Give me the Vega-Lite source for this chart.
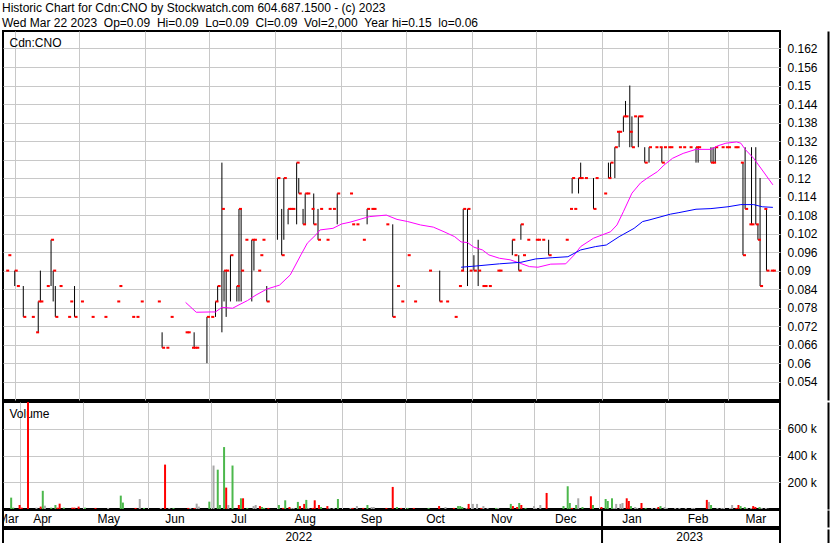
{
  "$schema": "https://vega.github.io/schema/vega-lite/v6.json",
  "background": "white",
  "padding": {"left": 2, "top": 2, "right": 0, "bottom": 0},
  "title": {
    "text": ["Historic Chart for Cdn:CNO by Stockwatch.com 604.687.1500 - (c) 2023", "Wed Mar 22 2023\u00a0\u00a0Op=0.09\u00a0\u00a0Hi=0.09\u00a0\u00a0Lo=0.09\u00a0\u00a0Cl=0.09\u00a0\u00a0Vol=2,000\u00a0\u00a0Year hi=0.15\u00a0\u00a0lo=0.06"],
    "anchor": "start", "font": "Liberation Sans", "fontSize": 12, "fontWeight": "normal", "color": "black", "lineHeight": 15, "offset": 0
  },
  "config": {
    "view": {"stroke": "black", "strokeWidth": 2},
    "font": "Liberation Sans",
    "axis": {"labelFont": "Liberation Sans", "labelFontSize": 12, "labelColor": "black", "gridColor": "#c8c8c8", "gridWidth": 1, "domain": false, "ticks": false, "labelOverlap": false, "labelBound": false}
  },
  "resolve": {"scale": {"color": "independent"}},
  "datasets": {
    "prices": [
      {"date":"2022-03-28","c":0.09,"v":85000,"chg":"up"},
      {"date":"2022-03-29","c":0.095,"v":10000,"chg":"up"},
      {"date":"2022-04-01","h":0.09,"l":0.085,"c":0.09,"v":30000,"chg":"down"},
      {"date":"2022-04-02","c":0.085,"v":10000,"chg":"down"},
      {"date":"2022-04-05","h":0.085,"l":0.075,"c":0.075,"v":1100000,"chg":"down"},
      {"date":"2022-04-09","c":0.075,"v":10000,"chg":"flat"},
      {"date":"2022-04-11","c":0.07,"v":18000,"chg":"down"},
      {"date":"2022-04-12","h":0.08,"l":0.07,"c":0.08,"v":136000,"chg":"up"},
      {"date":"2022-04-13","h":0.09,"l":0.08,"c":0.08,"v":25000,"chg":"flat"},
      {"date":"2022-04-16","c":0.085,"v":10000,"chg":"up"},
      {"date":"2022-04-18","h":0.10,"l":0.085,"c":0.10,"v":30000,"chg":"up"},
      {"date":"2022-04-19","h":0.09,"l":0.08,"c":0.09,"v":10000,"chg":"down"},
      {"date":"2022-04-20","h":0.085,"l":0.075,"c":0.075,"v":40000,"chg":"down"},
      {"date":"2022-04-22","c":0.085,"v":10000,"chg":"up"},
      {"date":"2022-04-26","c":0.075,"v":10000,"chg":"down"},
      {"date":"2022-04-27","c":0.08,"v":10000,"chg":"down"},
      {"date":"2022-04-29","h":0.085,"l":0.075,"c":0.075,"v":18000,"chg":"down"},
      {"date":"2022-05-02","c":0.08,"v":10000,"chg":"up"},
      {"date":"2022-05-07","c":0.075,"v":8000,"chg":"down"},
      {"date":"2022-05-13","c":0.075,"v":8000,"chg":"flat"},
      {"date":"2022-05-19","c":0.08,"v":100000,"chg":"up"},
      {"date":"2022-05-20","c":0.085,"v":48000,"chg":"up"},
      {"date":"2022-05-26","c":0.075,"v":8000,"chg":"down"},
      {"date":"2022-05-28","c":0.075,"v":75000,"chg":"flat"},
      {"date":"2022-05-30","c":0.08,"v":8000,"chg":"up"},
      {"date":"2022-06-07","c":0.08,"v":8000,"chg":"flat"},
      {"date":"2022-06-09","h":0.07,"l":0.065,"c":0.065,"v":332000,"chg":"down"},
      {"date":"2022-06-11","c":0.065,"v":8000,"chg":"flat"},
      {"date":"2022-06-13","c":0.075,"v":8000,"chg":"up"},
      {"date":"2022-06-20","c":0.07,"v":8000,"chg":"down"},
      {"date":"2022-06-21","c":0.07,"v":8000,"chg":"flat"},
      {"date":"2022-06-23","c":0.065,"v":8000,"chg":"down"},
      {"date":"2022-06-24","h":0.07,"l":0.065,"c":0.065,"v":40000,"chg":"flat"},
      {"date":"2022-06-25","c":0.065,"v":18000,"chg":"flat"},
      {"date":"2022-06-30","h":0.075,"l":0.06,"c":0.075,"v":55000,"chg":"up"},
      {"date":"2022-07-02","c":0.075,"v":325000,"chg":"flat"},
      {"date":"2022-07-04","h":0.08,"l":0.075,"c":0.08,"v":294000,"chg":"up"},
      {"date":"2022-07-05","h":0.085,"l":0.08,"c":0.085,"v":30000,"chg":"up"},
      {"date":"2022-07-07","h":0.125,"l":0.07,"c":0.11,"v":463000,"chg":"up"},
      {"date":"2022-07-08","h":0.09,"l":0.08,"c":0.09,"v":160000,"chg":"down"},
      {"date":"2022-07-09","h":0.09,"l":0.075,"c":0.09,"v":30000,"chg":"flat"},
      {"date":"2022-07-11","h":0.095,"l":0.08,"c":0.095,"v":325000,"chg":"up"},
      {"date":"2022-07-14","h":0.085,"l":0.08,"c":0.085,"v":30000,"chg":"down"},
      {"date":"2022-07-15","h":0.11,"l":0.08,"c":0.11,"v":80000,"chg":"up"},
      {"date":"2022-07-16","h":0.11,"l":0.08,"c":0.09,"v":80000,"chg":"down"},
      {"date":"2022-07-18","c":0.10,"v":8000,"chg":"up"},
      {"date":"2022-07-21","h":0.10,"l":0.08,"c":0.10,"v":22000,"chg":"flat"},
      {"date":"2022-07-22","h":0.10,"l":0.09,"c":0.10,"v":30000,"chg":"flat"},
      {"date":"2022-07-24","c":0.09,"v":22000,"chg":"down"},
      {"date":"2022-07-25","c":0.095,"v":15000,"chg":"up"},
      {"date":"2022-07-26","c":0.10,"v":8000,"chg":"up"},
      {"date":"2022-07-28","h":0.085,"l":0.08,"c":0.08,"v":8000,"chg":"down"},
      {"date":"2022-08-02","h":0.12,"l":0.10,"c":0.12,"v":30000,"chg":"up"},
      {"date":"2022-08-04","h":0.11,"l":0.095,"c":0.095,"v":8000,"chg":"down"},
      {"date":"2022-08-05","h":0.12,"l":0.10,"c":0.12,"v":65000,"chg":"up"},
      {"date":"2022-08-07","h":0.11,"l":0.105,"c":0.11,"v":15000,"chg":"down"},
      {"date":"2022-08-08","c":0.11,"v":8000,"chg":"flat"},
      {"date":"2022-08-09","c":0.11,"v":8000,"chg":"flat"},
      {"date":"2022-08-11","h":0.125,"l":0.105,"c":0.125,"v":53000,"chg":"up"},
      {"date":"2022-08-12","h":0.12,"l":0.115,"c":0.115,"v":22000,"chg":"down"},
      {"date":"2022-08-14","h":0.11,"l":0.105,"c":0.105,"v":38000,"chg":"down"},
      {"date":"2022-08-15","h":0.115,"l":0.105,"c":0.115,"v":68000,"chg":"up"},
      {"date":"2022-08-16","c":0.115,"v":8000,"chg":"flat"},
      {"date":"2022-08-18","c":0.11,"v":8000,"chg":"down"},
      {"date":"2022-08-19","h":0.115,"l":0.105,"c":0.105,"v":65000,"chg":"down"},
      {"date":"2022-08-21","h":0.11,"l":0.10,"c":0.10,"v":30000,"chg":"down"},
      {"date":"2022-08-22","c":0.11,"v":15000,"chg":"up"},
      {"date":"2022-08-25","c":0.10,"v":22000,"chg":"down"},
      {"date":"2022-08-26","c":0.11,"v":8000,"chg":"flat"},
      {"date":"2022-08-28","c":0.11,"v":8000,"chg":"flat"},
      {"date":"2022-08-30","h":0.115,"l":0.105,"c":0.115,"v":75000,"chg":"up"},
      {"date":"2022-09-05","c":0.115,"v":8000,"chg":"flat"},
      {"date":"2022-09-06","c":0.105,"v":8000,"chg":"down"},
      {"date":"2022-09-08","c":0.105,"v":22000,"chg":"flat"},
      {"date":"2022-09-11","c":0.10,"v":8000,"chg":"down"},
      {"date":"2022-09-13","h":0.11,"l":0.105,"c":0.11,"v":30000,"chg":"up"},
      {"date":"2022-09-15","c":0.11,"v":15000,"chg":"flat"},
      {"date":"2022-09-16","c":0.11,"v":15000,"chg":"flat"},
      {"date":"2022-09-22","c":0.105,"v":8000,"chg":"down"},
      {"date":"2022-09-25","h":0.105,"l":0.075,"c":0.075,"v":165000,"chg":"down"},
      {"date":"2022-09-27","c":0.085,"v":15000,"chg":"up"},
      {"date":"2022-09-29","c":0.08,"v":8000,"chg":"down"},
      {"date":"2022-10-02","c":0.095,"v":8000,"chg":"up"},
      {"date":"2022-10-05","c":0.08,"v":8000,"chg":"down"},
      {"date":"2022-10-12","c":0.09,"v":8000,"chg":"up"},
      {"date":"2022-10-17","h":0.09,"l":0.08,"c":0.08,"v":22000,"chg":"down"},
      {"date":"2022-10-20","c":0.08,"v":15000,"chg":"flat"},
      {"date":"2022-10-24","c":0.075,"v":8000,"chg":"down"},
      {"date":"2022-10-26","c":0.085,"v":22000,"chg":"up"},
      {"date":"2022-10-27","c":0.09,"v":22000,"chg":"up"},
      {"date":"2022-10-28","h":0.11,"l":0.09,"c":0.11,"v":15000,"chg":"up"},
      {"date":"2022-10-30","h":0.11,"l":0.085,"c":0.11,"v":8000,"chg":"flat"},
      {"date":"2022-10-31","c":0.09,"v":38000,"chg":"down"},
      {"date":"2022-11-02","h":0.095,"l":0.09,"c":0.09,"v":38000,"chg":"flat"},
      {"date":"2022-11-04","h":0.10,"l":0.085,"c":0.09,"v":38000,"chg":"flat"},
      {"date":"2022-11-06","c":0.085,"v":8000,"chg":"down"},
      {"date":"2022-11-07","c":0.085,"v":22000,"chg":"flat"},
      {"date":"2022-11-09","c":0.085,"v":8000,"chg":"flat"},
      {"date":"2022-11-13","c":0.09,"v":8000,"chg":"up"},
      {"date":"2022-11-14","c":0.09,"v":8000,"chg":"flat"},
      {"date":"2022-11-20","h":0.10,"l":0.095,"c":0.10,"v":38000,"chg":"up"},
      {"date":"2022-11-21","c":0.095,"v":22000,"chg":"down"},
      {"date":"2022-11-23","h":0.095,"l":0.09,"c":0.09,"v":15000,"chg":"down"},
      {"date":"2022-11-24","h":0.105,"l":0.10,"c":0.105,"v":45000,"chg":"up"},
      {"date":"2022-11-25","c":0.095,"v":30000,"chg":"down"},
      {"date":"2022-11-27","c":0.10,"v":8000,"chg":"up"},
      {"date":"2022-12-01","c":0.10,"v":22000,"chg":"flat"},
      {"date":"2022-12-02","c":0.10,"v":8000,"chg":"flat"},
      {"date":"2022-12-04","c":0.10,"v":30000,"chg":"flat"},
      {"date":"2022-12-07","h":0.10,"l":0.095,"c":0.095,"v":120000,"chg":"down"},
      {"date":"2022-12-15","c":0.10,"v":22000,"chg":"up"},
      {"date":"2022-12-17","c":0.11,"v":170000,"chg":"up"},
      {"date":"2022-12-18","h":0.12,"l":0.115,"c":0.12,"v":45000,"chg":"up"},
      {"date":"2022-12-19","c":0.11,"v":8000,"chg":"down"},
      {"date":"2022-12-21","h":0.12,"l":0.115,"c":0.12,"v":30000,"chg":"up"},
      {"date":"2022-12-22","h":0.125,"l":0.12,"c":0.12,"v":80000,"chg":"flat"},
      {"date":"2022-12-24","c":0.12,"v":15000,"chg":"up"},
      {"date":"2022-12-28","h":0.12,"l":0.11,"c":0.11,"v":95000,"chg":"down"},
      {"date":"2022-12-29","c":0.12,"v":30000,"chg":"up"},
      {"date":"2023-01-02","c":0.115,"v":15000,"chg":"down"},
      {"date":"2023-01-04","h":0.125,"l":0.12,"c":0.12,"v":75000,"chg":"up"},
      {"date":"2023-01-05","h":0.125,"l":0.12,"c":0.125,"v":60000,"chg":"up"},
      {"date":"2023-01-07","h":0.13,"l":0.12,"c":0.13,"v":80000,"chg":"up"},
      {"date":"2023-01-08","c":0.135,"v":8000,"chg":"flat"},
      {"date":"2023-01-09","h":0.135,"l":0.13,"c":0.135,"v":38000,"chg":"flat"},
      {"date":"2023-01-11","h":0.14,"l":0.135,"c":0.14,"v":38000,"chg":"flat"},
      {"date":"2023-01-12","h":0.145,"l":0.14,"c":0.14,"v":45000,"chg":"flat"},
      {"date":"2023-01-14","h":0.15,"l":0.13,"c":0.135,"v":80000,"chg":"down"},
      {"date":"2023-01-15","h":0.14,"l":0.13,"c":0.13,"v":60000,"chg":"down"},
      {"date":"2023-01-16","c":0.14,"v":22000,"chg":"up"},
      {"date":"2023-01-18","h":0.14,"l":0.13,"c":0.14,"v":15000,"chg":"flat"},
      {"date":"2023-01-19","c":0.14,"v":8000,"chg":"flat"},
      {"date":"2023-01-21","h":0.13,"l":0.125,"c":0.125,"v":45000,"chg":"down"},
      {"date":"2023-01-23","h":0.13,"l":0.125,"c":0.13,"v":8000,"chg":"up"},
      {"date":"2023-01-26","c":0.13,"v":8000,"chg":"flat"},
      {"date":"2023-01-28","c":0.13,"v":8000,"chg":"flat"},
      {"date":"2023-01-29","h":0.13,"l":0.125,"c":0.125,"v":15000,"chg":"down"},
      {"date":"2023-01-30","c":0.13,"v":22000,"chg":"up"},
      {"date":"2023-02-01","c":0.13,"v":15000,"chg":"flat"},
      {"date":"2023-02-02","c":0.13,"v":8000,"chg":"flat"},
      {"date":"2023-02-06","c":0.13,"v":8000,"chg":"flat"},
      {"date":"2023-02-08","c":0.13,"v":8000,"chg":"flat"},
      {"date":"2023-02-11","c":0.13,"v":8000,"chg":"flat"},
      {"date":"2023-02-14","h":0.13,"l":0.125,"c":0.13,"v":8000,"chg":"flat"},
      {"date":"2023-02-15","h":0.13,"l":0.125,"c":0.13,"v":8000,"chg":"flat"},
      {"date":"2023-02-21","h":0.13,"l":0.125,"c":0.125,"v":68000,"chg":"down"},
      {"date":"2023-02-22","h":0.13,"l":0.125,"c":0.125,"v":53000,"chg":"flat"},
      {"date":"2023-02-23","h":0.13,"l":0.125,"c":0.13,"v":30000,"chg":"up"},
      {"date":"2023-02-26","c":0.13,"v":8000,"chg":"flat"},
      {"date":"2023-02-28","c":0.13,"v":8000,"chg":"flat"},
      {"date":"2023-03-01","c":0.13,"v":8000,"chg":"flat"},
      {"date":"2023-03-04","c":0.13,"v":8000,"chg":"flat"},
      {"date":"2023-03-05","c":0.13,"v":30000,"chg":"flat"},
      {"date":"2023-03-07","c":0.125,"v":8000,"chg":"down"},
      {"date":"2023-03-08","h":0.125,"l":0.095,"c":0.095,"v":30000,"chg":"down"},
      {"date":"2023-03-09","h":0.13,"l":0.11,"c":0.11,"v":22000,"chg":"up"},
      {"date":"2023-03-11","c":0.105,"v":15000,"chg":"up"},
      {"date":"2023-03-12","h":0.13,"l":0.105,"c":0.105,"v":8000,"chg":"flat"},
      {"date":"2023-03-14","h":0.13,"l":0.105,"c":0.105,"v":8000,"chg":"flat"},
      {"date":"2023-03-15","h":0.105,"l":0.10,"c":0.10,"v":22000,"chg":"down"},
      {"date":"2023-03-16","h":0.12,"l":0.085,"c":0.085,"v":15000,"chg":"down"},
      {"date":"2023-03-18","c":0.11,"v":15000,"chg":"up"},
      {"date":"2023-03-19","h":0.11,"l":0.09,"c":0.09,"v":8000,"chg":"flat"},
      {"date":"2023-03-21","c":0.09,"v":8000,"chg":"flat"},
      {"date":"2023-03-22","c":0.09,"v":2000,"chg":"flat"}
    ],
    "ma": [
      {"date":"2022-06-20","series":"short","value":0.0797},
      {"date":"2022-06-25","series":"short","value":0.0765},
      {"date":"2022-07-02","series":"short","value":0.0766},
      {"date":"2022-07-04","series":"short","value":0.0766},
      {"date":"2022-07-07","series":"short","value":0.0781},
      {"date":"2022-07-12","series":"short","value":0.0778},
      {"date":"2022-07-15","series":"short","value":0.0789},
      {"date":"2022-07-19","series":"short","value":0.0803},
      {"date":"2022-07-23","series":"short","value":0.0821},
      {"date":"2022-07-28","series":"short","value":0.0840},
      {"date":"2022-08-03","series":"short","value":0.0853},
      {"date":"2022-08-08","series":"short","value":0.0886},
      {"date":"2022-08-13","series":"short","value":0.0951},
      {"date":"2022-08-16","series":"short","value":0.0989},
      {"date":"2022-08-20","series":"short","value":0.1016},
      {"date":"2022-08-22","series":"short","value":0.1032},
      {"date":"2022-08-28","series":"short","value":0.1037},
      {"date":"2022-09-01","series":"short","value":0.1051},
      {"date":"2022-09-05","series":"short","value":0.1057},
      {"date":"2022-09-14","series":"short","value":0.1075},
      {"date":"2022-09-22","series":"short","value":0.1080},
      {"date":"2022-09-27","series":"short","value":0.1066},
      {"date":"2022-10-02","series":"short","value":0.1059},
      {"date":"2022-10-08","series":"short","value":0.1048},
      {"date":"2022-10-14","series":"short","value":0.1041},
      {"date":"2022-10-19","series":"short","value":0.1026},
      {"date":"2022-10-24","series":"short","value":0.1010},
      {"date":"2022-10-27","series":"short","value":0.0993},
      {"date":"2022-10-30","series":"short","value":0.0991},
      {"date":"2022-11-02","series":"short","value":0.0976},
      {"date":"2022-11-06","series":"short","value":0.0967},
      {"date":"2022-11-09","series":"short","value":0.0951},
      {"date":"2022-11-14","series":"short","value":0.0940},
      {"date":"2022-11-19","series":"short","value":0.0935},
      {"date":"2022-11-24","series":"short","value":0.0923},
      {"date":"2022-11-28","series":"short","value":0.0913},
      {"date":"2022-12-02","series":"short","value":0.0911},
      {"date":"2022-12-08","series":"short","value":0.0921},
      {"date":"2022-12-15","series":"short","value":0.0922},
      {"date":"2022-12-19","series":"short","value":0.0951},
      {"date":"2022-12-22","series":"short","value":0.0978},
      {"date":"2022-12-28","series":"short","value":0.1005},
      {"date":"2022-12-31","series":"short","value":0.1013},
      {"date":"2023-01-05","series":"short","value":0.1026},
      {"date":"2023-01-08","series":"short","value":0.1048},
      {"date":"2023-01-11","series":"short","value":0.1091},
      {"date":"2023-01-15","series":"short","value":0.1151},
      {"date":"2023-01-19","series":"short","value":0.1184},
      {"date":"2023-01-22","series":"short","value":0.1199},
      {"date":"2023-01-27","series":"short","value":0.1221},
      {"date":"2023-01-30","series":"short","value":0.1242},
      {"date":"2023-02-03","series":"short","value":0.1264},
      {"date":"2023-02-08","series":"short","value":0.1280},
      {"date":"2023-02-14","series":"short","value":0.1293},
      {"date":"2023-02-21","series":"short","value":0.1293},
      {"date":"2023-02-24","series":"short","value":0.1304},
      {"date":"2023-02-28","series":"short","value":0.1313},
      {"date":"2023-03-05","series":"short","value":0.1317},
      {"date":"2023-03-07","series":"short","value":0.1313},
      {"date":"2023-03-09","series":"short","value":0.1293},
      {"date":"2023-03-13","series":"short","value":0.1264},
      {"date":"2023-03-17","series":"short","value":0.1226},
      {"date":"2023-03-22","series":"short","value":0.1178},
      {"date":"2022-10-27","series":"long","value":0.0911},
      {"date":"2022-11-03","series":"long","value":0.0915},
      {"date":"2022-11-14","series":"long","value":0.0922},
      {"date":"2022-11-24","series":"long","value":0.0927},
      {"date":"2022-12-01","series":"long","value":0.0938},
      {"date":"2022-12-09","series":"long","value":0.0942},
      {"date":"2022-12-16","series":"long","value":0.0945},
      {"date":"2022-12-22","series":"long","value":0.0967},
      {"date":"2022-12-29","series":"long","value":0.0978},
      {"date":"2023-01-03","series":"long","value":0.0983},
      {"date":"2023-01-09","series":"long","value":0.1010},
      {"date":"2023-01-16","series":"long","value":0.1037},
      {"date":"2023-01-20","series":"long","value":0.1059},
      {"date":"2023-01-23","series":"long","value":0.1064},
      {"date":"2023-02-02","series":"long","value":0.1083},
      {"date":"2023-02-06","series":"long","value":0.1088},
      {"date":"2023-02-14","series":"long","value":0.1099},
      {"date":"2023-02-21","series":"long","value":0.1101},
      {"date":"2023-03-01","series":"long","value":0.1107},
      {"date":"2023-03-07","series":"long","value":0.1114},
      {"date":"2023-03-13","series":"long","value":0.1114},
      {"date":"2023-03-17","series":"long","value":0.1107},
      {"date":"2023-03-22","series":"long","value":0.1105}
    ],
    "months": [
      {"date":"2022-03-29","label":"Mar","row":"month"},
      {"date":"2022-04-14","label":"Apr","row":"month"},
      {"date":"2022-05-15","label":"May","row":"month"},
      {"date":"2022-06-15","label":"Jun","row":"month"},
      {"date":"2022-07-15","label":"Jul","row":"month"},
      {"date":"2022-08-15","label":"Aug","row":"month"},
      {"date":"2022-09-15","label":"Sep","row":"month"},
      {"date":"2022-10-15","label":"Oct","row":"month"},
      {"date":"2022-11-15","label":"Nov","row":"month"},
      {"date":"2022-12-15","label":"Dec","row":"month"},
      {"date":"2023-01-15","label":"Jan","row":"month"},
      {"date":"2023-02-15","label":"Feb","row":"month"},
      {"date":"2023-03-14","label":"Mar","row":"month"}
    ],
    "years": [
      {"date":"2022-08-12","label":"2022","row":"year"},
      {"date":"2023-02-11","label":"2023","row":"year"}
    ],
    "divider": [
      {"date":"2023-01-01"}
    ]
  },
  "spacing": 0,
  "vconcat": [
    {
      "width": 777,
      "height": 369,
      "layer": [
        {
          "data": {"name": "prices"},
          "mark": {"type": "rule", "color": "black", "strokeWidth": 1},
          "encoding": {
            "x": {"field": "date", "type": "temporal",
              "scale": {"type": "utc", "domain": [{"year":2022,"month":3,"date":26,"hours":12,"utc":true},{"year":2023,"month":3,"date":25,"hours":8,"utc":true}]},
              "axis": {"orient": "top", "values": [
                {"year":2022,"month":4,"date":1,"utc":true},{"year":2022,"month":5,"date":1,"utc":true},{"year":2022,"month":6,"date":1,"utc":true},
                {"year":2022,"month":7,"date":1,"utc":true},{"year":2022,"month":8,"date":1,"utc":true},{"year":2022,"month":9,"date":1,"utc":true},
                {"year":2022,"month":10,"date":1,"utc":true},{"year":2022,"month":11,"date":1,"utc":true},{"year":2022,"month":12,"date":1,"utc":true},
                {"year":2023,"month":1,"date":1,"utc":true},{"year":2023,"month":2,"date":1,"utc":true},{"year":2023,"month":3,"date":1,"utc":true}],
                "tickCount": 40, "grid": true, "labels": false, "ticks": false, "domain": false,
                "title": "Cdn:CNO", "titleX": 6, "titleY": 15, "titleAlign": "left", "titleBaseline": "alphabetic", "titleAngle": 0,
                "titleFont": "Liberation Sans", "titleFontSize": 12, "titleFontWeight": "normal", "titleColor": "black"}},
            "y": {"field": "l", "type": "quantitative",
              "scale": {"domain": [0.04806, 0.16767], "nice": false, "zero": false},
              "axis": {"orient": "right", "offset": 48, "values": [0.054,0.06,0.066,0.072,0.078,0.084,0.09,0.096,0.102,0.108,0.114,0.12,0.126,0.132,0.138,0.144,0.15,0.156,0.162],
                "tickCount": 40, "format": ".3~f", "grid": true, "labelPadding": -41, "labelAlign": "left", "domain": true, "domainColor": "black", "domainWidth": 2, "minExtent": 2, "maxExtent": 2, "title": null}},
            "y2": {"field": "h"}
          }
        },
        {
          "data": {"name": "prices"},
          "mark": {"type": "point", "shape": "M0,-0.34L1,-0.34L1,0.34L0,0.34Z", "size": 36, "filled": true, "color": "#ff0000", "opacity": 1, "strokeWidth": 0},
          "encoding": {
            "x": {"field": "date", "type": "temporal"},
            "y": {"field": "c", "type": "quantitative"}
          }
        },
        {
          "data": {"name": "ma"},
          "mark": {"type": "line", "strokeWidth": 1},
          "encoding": {
            "x": {"field": "date", "type": "temporal"},
            "y": {"field": "value", "type": "quantitative"},
            "color": {"field": "series", "type": "nominal", "scale": {"domain": ["short", "long"], "range": ["#ff00ff", "#0000ff"]}, "legend": null}
          }
        }
      ]
    },
    {
      "spacing": -2,
      "vconcat": [
        {
          "width": 777,
          "height": 107,
          "data": {"name": "prices"},
          "mark": {"type": "bar", "width": 2, "clip": true},
          "encoding": {
            "x": {"field": "date", "type": "temporal",
              "scale": {"type": "utc", "domain": [{"year":2022,"month":3,"date":26,"hours":12,"utc":true},{"year":2023,"month":3,"date":25,"hours":8,"utc":true}]},
              "axis": {"orient": "top", "values": [
                {"year":2022,"month":4,"date":1,"utc":true},{"year":2022,"month":5,"date":1,"utc":true},{"year":2022,"month":6,"date":1,"utc":true},
                {"year":2022,"month":7,"date":1,"utc":true},{"year":2022,"month":8,"date":1,"utc":true},{"year":2022,"month":9,"date":1,"utc":true},
                {"year":2022,"month":10,"date":1,"utc":true},{"year":2022,"month":11,"date":1,"utc":true},{"year":2022,"month":12,"date":1,"utc":true},
                {"year":2023,"month":1,"date":1,"utc":true},{"year":2023,"month":2,"date":1,"utc":true},{"year":2023,"month":3,"date":1,"utc":true}],
                "tickCount": 40, "grid": true, "labels": false, "ticks": false, "domain": false,
                "title": "Volume", "titleX": 6, "titleY": 15, "titleAlign": "left", "titleBaseline": "alphabetic", "titleAngle": 0,
                "titleFont": "Liberation Sans", "titleFontSize": 12, "titleFontWeight": "normal", "titleColor": "black"}},
            "y": {"field": "v", "type": "quantitative",
              "scale": {"domain": [0, 800000], "nice": false},
              "axis": {"orient": "right", "offset": 48, "values": [200000, 400000, 600000], "tickCount": 10, "labelExpr": "datum.value / 1000 + ' k'", "grid": true, "labelPadding": -41, "labelAlign": "left", "domain": true, "domainColor": "black", "domainWidth": 2, "minExtent": 2, "maxExtent": 2, "title": null}},
            "color": {"field": "chg", "type": "nominal", "scale": {"domain": ["up", "down", "flat"], "range": ["#4cb84c", "#ff0000", "#a8a8a8"]}, "legend": null}
          }
        },
        {
          "width": 777,
          "height": 17,
          "layer": [
            {
              "data": {"name": "months"},
              "mark": {"type": "text", "clip": true, "font": "Liberation Sans", "fontSize": 12, "color": "black", "baseline": "middle", "align": "center"},
              "encoding": {
                "x": {"field": "date", "type": "temporal",
                  "scale": {"type": "utc", "domain": [{"year":2022,"month":3,"date":26,"hours":12,"utc":true},{"year":2023,"month":3,"date":25,"hours":8,"utc":true}]},
                  "axis": null},
                "y": {"field": "row", "type": "nominal",
                  "axis": {"orient": "right", "offset": 48, "labels": false, "ticks": false, "grid": false, "domain": true, "domainColor": "black", "domainWidth": 2, "minExtent": 2, "maxExtent": 2, "title": null}},
                "text": {"field": "label"}
              }
            },
            {
              "data": {"name": "divider"},
              "mark": {"type": "rule", "color": "black", "strokeWidth": 2},
              "encoding": {"x": {"field": "date", "type": "temporal"}}
            }
          ]
        },
        {
          "width": 777,
          "height": 15,
          "layer": [
            {
              "data": {"name": "years"},
              "mark": {"type": "text", "clip": true, "font": "Liberation Sans", "fontSize": 12, "color": "black", "baseline": "middle", "align": "center"},
              "encoding": {
                "x": {"field": "date", "type": "temporal",
                  "scale": {"type": "utc", "domain": [{"year":2022,"month":3,"date":26,"hours":12,"utc":true},{"year":2023,"month":3,"date":25,"hours":8,"utc":true}]},
                  "axis": null},
                "y": {"field": "row", "type": "nominal",
                  "axis": {"orient": "right", "offset": 48, "labels": false, "ticks": false, "grid": false, "domain": true, "domainColor": "black", "domainWidth": 2, "minExtent": 2, "maxExtent": 2, "title": null}},
                "text": {"field": "label"}
              }
            },
            {
              "data": {"name": "divider"},
              "mark": {"type": "rule", "color": "black", "strokeWidth": 2},
              "encoding": {"x": {"field": "date", "type": "temporal"}}
            }
          ]
        }
      ]
    }
  ]
}
